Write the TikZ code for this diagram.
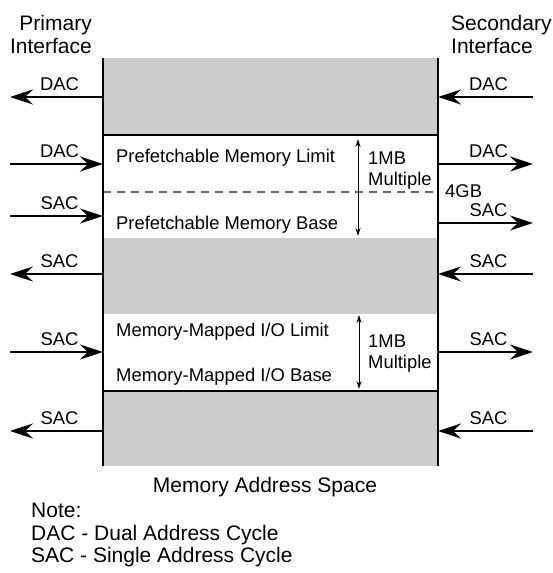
\documentclass[tikz,border=0pt]{standalone}
\usepackage{fontspec}
\setmainfont{Liberation Sans}
\usetikzlibrary{arrows.meta}
\definecolor{bandgray}{HTML}{CCCCCC}
\definecolor{dashgray}{HTML}{666666}

\begin{document}
\begin{tikzpicture}[x=1pt,y=-1pt,
	sig/.style={line width=2.2pt,-{Stealth[length=23pt,width=15pt,inset=8pt]}},
	span/.style={line width=0.9pt,{Stealth[length=8pt,width=5pt]}-{Stealth[length=8pt,width=5pt]}},
	lab/.style={above=5pt,xshift=3pt,inner sep=0pt,font=\fontsize{18.4}{21}\selectfont},
	txt/.style={inner sep=0pt,font=\fontsize{18.4}{21}\selectfont},
	head/.style={inner sep=0pt,font=\fontsize{21}{23}\selectfont}]
	\useasboundingbox (0,0) rectangle (553,573);

	\fill[bandgray] (103,58) rectangle (438,135);
	\fill[bandgray] (103,238) rectangle (438,314);
	\fill[bandgray] (103,391) rectangle (438,466);
	\draw[dashgray,line width=1.2pt,dash pattern=on 8pt off 6pt] (103,192) -- (438,192);
	\draw[line width=2pt] (103,135) -- (438,135);
	\draw[line width=2pt] (103,391) -- (438,391);
	\draw[line width=2.5pt] (103,58) -- (103,466);
	\draw[line width=2.5pt] (438,58) -- (438,466);

	\begin{scope}
		\coordinate (l1) at (10,97);
		\coordinate (L1) at (103,97);
		\coordinate (l2) at (10,164);
		\coordinate (L2) at (103,164);
		\coordinate (l3) at (10,216);
		\coordinate (L3) at (103,216);
		\coordinate (l4) at (10,274);
		\coordinate (L4) at (103,274);
		\coordinate (l5) at (10,352);
		\coordinate (L5) at (103,352);
		\coordinate (l6) at (10,431);
		\coordinate (L6) at (103,431);

		\coordinate (R1) at (438,97);
		\coordinate (r1) at (533,97);
		\coordinate (R2) at (438,164);
		\coordinate (r2) at (533,164);
		\coordinate (R3) at (438,223);
		\coordinate (r3) at (533,223);
		\coordinate (R4) at (438,274);
		\coordinate (r4) at (533,274);
		\coordinate (R5) at (438,352);
		\coordinate (r5) at (533,352);
		\coordinate (R6) at (438,431);
		\coordinate (r6) at (533,431);
	\end{scope}

	\draw[sig] (L1) -- node[lab] {DAC} (l1);
	\draw[sig] (l2) -- node[lab] {DAC} (L2);
	\draw[sig] (l3) -- node[lab] {SAC} (L3);
	\draw[sig] (L4) -- node[lab] {SAC} (l4);
	\draw[sig] (l5) -- node[lab] {SAC} (L5);
	\draw[sig] (L6) -- node[lab] {SAC} (l6);

	\draw[sig] (r1) -- node[lab] {DAC} (R1);
	\draw[sig] (R2) -- node[lab] {DAC} (r2);
	\draw[sig] (R3) -- node[lab] {SAC} (r3);
	\draw[sig] (r4) -- node[lab] {SAC} (R4);
	\draw[sig] (R5) -- node[lab] {SAC} (r5);
	\draw[sig] (r6) -- node[lab] {SAC} (R6);

	\node[head,anchor=north east,align=right] (prim) at (92,15) {Primary\\Interface};
	\node[head,anchor=north west,align=left] (sec) at (451,15) {Secondary\\Interface};

	\node[txt,anchor=base west] (pflim) at (116,162) {Prefetchable Memory Limit};
	\node[txt,anchor=base west] (pfbase) at (116,229) {Prefetchable Memory Base};
	\node[txt,anchor=base west] (mmlim) at (116,336) {Memory-Mapped I/O Limit};
	\node[txt,anchor=base west] (mmbase) at (116,381) {Memory-Mapped I/O Base};

	\coordinate (pt) at (358,139);
	\coordinate (pb) at (358,236);
	\coordinate (mt) at (359,315);
	\coordinate (mb) at (359,389);
	\draw[span] (pt) -- (pb);
	\draw[span] (mt) -- (mb);

	\node[txt,anchor=north west,align=left] (pfmul) at (368,152) {1MB\\Multiple};
	\node[txt,anchor=north west,align=left] (mmmul) at (368,335) {1MB\\Multiple};
	\node[txt,anchor=base west] (fourgb) at (445,197) {4GB};

	\node[head,anchor=base] (space) at (265,492) {Memory Address Space};
	\node[head,anchor=north west,align=left,font=\fontsize{21}{22.5}\selectfont] (note) at (31,503) {Note:\\DAC - Dual Address Cycle\\SAC - Single Address Cycle};
\end{tikzpicture}
\end{document}
